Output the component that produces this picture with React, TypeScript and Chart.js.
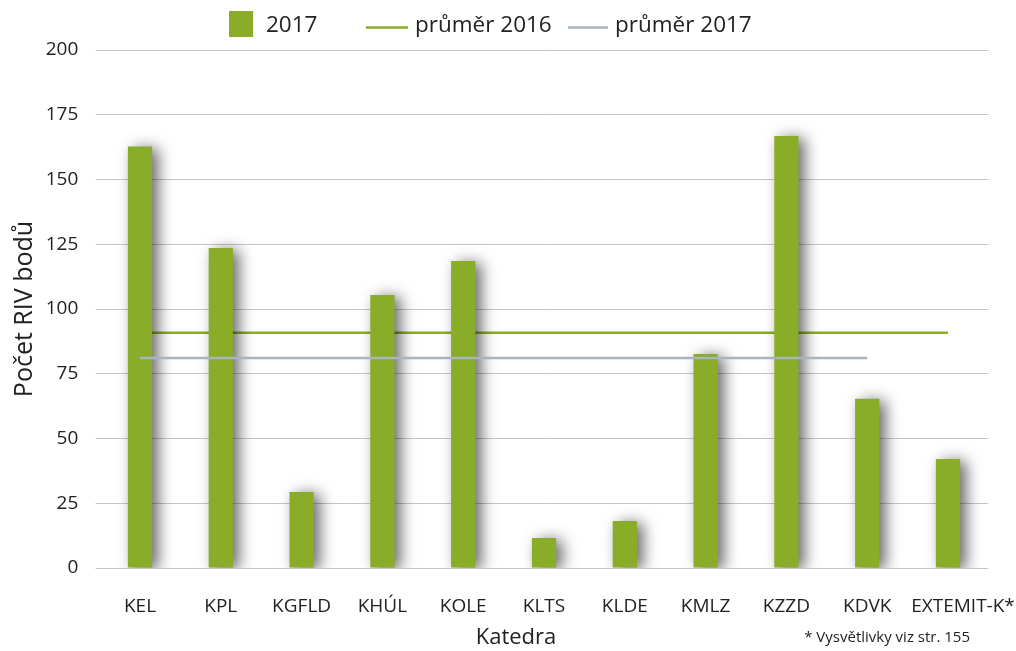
import React, { useEffect, useRef } from 'react';
import { Chart, registerables } from 'chart.js';

Chart.register(...registerables);

const categories = ['KEL', 'KPL', 'KGFLD', 'KHÚL', 'KOLE', 'KLTS', 'KLDE', 'KMLZ', 'KZZD', 'KDVK', 'EXTEMIT-K*'];
const values2017 = [162.7, 123.6, 29.3, 105.4, 118.5, 11.6, 18.1, 82.6, 166.8, 65.3, 42.1];
const average2016 = [90.8, 90.8, 90.8, 90.8, 90.8, 90.8, 90.8, 90.8, 90.8, 90.8, 90.8];
const average2017 = [81.1, 81.1, 81.1, 81.1, 81.1, 81.1, 81.1, 81.1, 81.1, 81.1, null];
const yTickValues = [0, 25, 50, 75, 100, 125, 150, 175, 200];

const seriesLabels = ['2017', 'průměr 2016', 'průměr 2017'];
const xTitle = 'Katedra';
const yTitle = 'Počet RIV bodů';
const footnote = '* Vysvětlivky viz str. 155';

const FONT = '"Open Sans", "Noto Sans", sans-serif';
const GREEN = '#89ad29';
const GRAY = '#a9b5bd';
const TEXT = '#222222';

export default function App() {
  const ref = useRef<HTMLCanvasElement>(null);

  useEffect(() => {
    if (!ref.current) return;

    const shadowPlugin = {
      id: 'barShadow',
      beforeDatasetDraw(chart: any, args: any) {
        const ds = chart.data.datasets[args.index];
        if (ds.type !== 'bar') return;
        const ctx = chart.ctx;
        ctx.save();
        ctx.shadowColor = 'rgba(0,0,0,0.6)';
        ctx.shadowBlur = 15;
        ctx.shadowOffsetX = 6;
        ctx.shadowOffsetY = 2;
      },
      afterDatasetDraw(chart: any, args: any) {
        const ds = chart.data.datasets[args.index];
        if (ds.type !== 'bar') return;
        chart.ctx.restore();
      },
    };

    const lastLabelShift = {
      id: 'lastLabelShift',
      beforeDraw(chart: any) {
        const x = chart.scales.x;
        const items = x.getLabelItems(chart.chartArea);
        const last = items[items.length - 1];
        if (last && !last._shifted) {
          last.options.translation[0] += 15;
          last._shifted = true;
        }
      },
    };

    const legendPlugin = {
      id: 'customLegend',
      afterDraw(chart: any) {
        const ctx = chart.ctx;
        const ds = chart.data.datasets;
        const bar = ds.find((d: any) => d.type === 'bar');
        const l16 = ds.find((d: any) => d.label === seriesLabels[1]);
        const l17 = ds.find((d: any) => d.label === seriesLabels[2]);
        ctx.save();
        ctx.font = `22.5px ${FONT}`;
        ctx.textBaseline = 'middle';
        ctx.textAlign = 'left';
        ctx.fillStyle = bar.backgroundColor;
        ctx.fillRect(229, 11, 24, 26);
        ctx.fillStyle = TEXT;
        ctx.fillText(bar.label, 266, 26);
        ctx.lineWidth = 2.5;
        ctx.strokeStyle = l16.borderColor;
        ctx.beginPath();
        ctx.moveTo(366, 27.5);
        ctx.lineTo(408, 27.5);
        ctx.stroke();
        ctx.fillText(l16.label, 415, 26);
        ctx.strokeStyle = l17.borderColor;
        ctx.beginPath();
        ctx.moveTo(568, 27.5);
        ctx.lineTo(608, 27.5);
        ctx.stroke();
        ctx.fillText(l17.label, 615, 26);
        ctx.restore();
      },
    };

    const textPlugin = {
      id: 'extraText',
      afterDraw(chart: any) {
        const ctx = chart.ctx;
        ctx.save();
        ctx.fillStyle = TEXT;
        ctx.textBaseline = 'middle';
        ctx.font = `22px ${FONT}`;
        ctx.textAlign = 'center';
        ctx.fillText(xTitle, 516, 638);
        ctx.font = `15px ${FONT}`;
        ctx.textAlign = 'right';
        ctx.fillText(footnote, 970, 638);
        ctx.restore();
      },
    };

    const chart = new Chart(ref.current, {
      type: 'bar',
      data: {
        labels: categories,
        datasets: [
          {
            type: 'line',
            label: seriesLabels[1],
            data: average2016,
            borderColor: GREEN,
            backgroundColor: GREEN,
            borderWidth: 2.5,
            pointRadius: 0,
            fill: false,
            order: 3,
          } as any,
          {
            type: 'bar',
            label: seriesLabels[0],
            data: values2017,
            backgroundColor: GREEN,
            borderWidth: 0,
            barPercentage: 0.3,
            categoryPercentage: 1,
            order: 2,
          } as any,
          {
            type: 'line',
            label: seriesLabels[2],
            data: average2017,
            borderColor: GRAY,
            backgroundColor: GRAY,
            borderWidth: 2.5,
            pointRadius: 0,
            fill: false,
            spanGaps: false,
            order: 1,
          } as any,
        ],
      },
      options: {
        responsive: false,
        animation: false,
        layout: { padding: { top: 50, right: 27.6, left: 0, bottom: 26.4 } },
        plugins: {
          legend: { display: false },
          tooltip: { enabled: false },
        },
        scales: {
          x: {
            grid: { display: false, drawTicks: true, tickLength: 24 },
            border: { display: false },
            ticks: {
              font: { family: FONT, size: 19 },
              color: TEXT,
              padding: 3,
              maxRotation: 0,
              autoSkip: false,
            },
            afterFit: (s: any) => {
              s.height = 56.6;
            },
          },
          y: {
            min: 0,
            max: 200,
            afterBuildTicks: (s: any) => {
              s.ticks = yTickValues.map((v) => ({ value: v }));
            },
            ticks: {
              font: { family: FONT, size: 19 },
              color: TEXT,
              padding: 17.3,
            },
            grid: { color: '#c6c6c6', lineWidth: 1, tickLength: 4 },
            border: { display: false },
            title: {
              display: true,
              text: yTitle,
              font: { family: FONT, size: 25 },
              color: TEXT,
              padding: { top: 9.5, bottom: 0 },
            },
            afterFit: (s: any) => {
              s.width = 99.6;
            },
          },
        },
      } as any,
      plugins: [shadowPlugin, lastLabelShift, legendPlugin, textPlugin],
    });

    return () => chart.destroy();
  }, []);

  return (
    <div style={{ position: 'absolute', left: 0, top: 0, width: 1016, height: 651, background: '#fff' }}>
      <canvas ref={ref} width={1016} height={651} style={{ display: 'block' }} />
    </div>
  );
}
